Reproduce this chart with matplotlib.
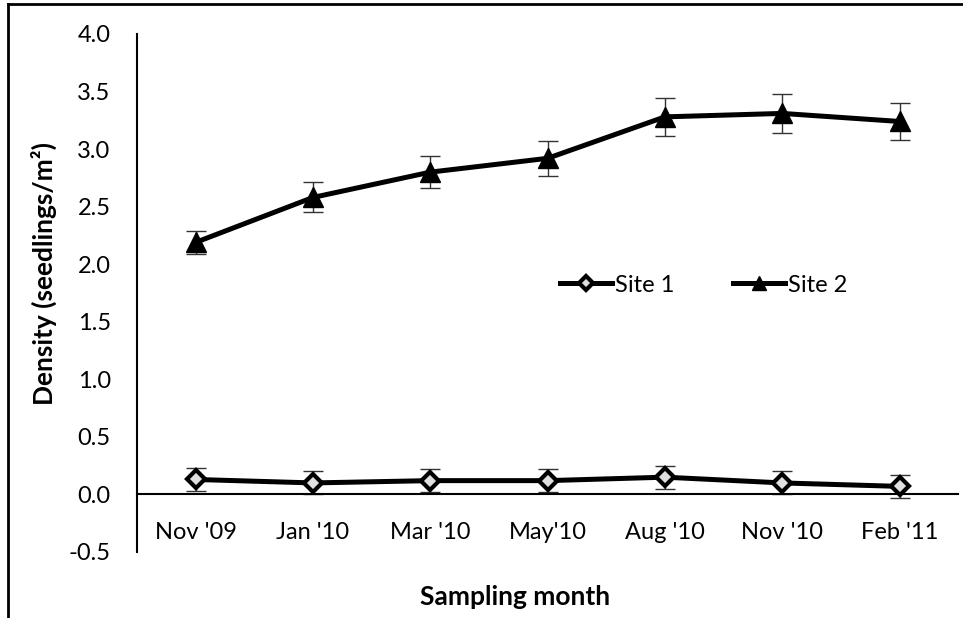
import matplotlib
matplotlib.use('Agg')
import matplotlib.pyplot as plt
from matplotlib.lines import Line2D
import numpy as np

months = ["Nov '09", "Jan '10", "Mar '10", "May'10", "Aug '10", "Nov '10", "Feb '11"]
site1 = [0.13, 0.10, 0.12, 0.12, 0.15, 0.10, 0.07]
site1_err = [0.10, 0.10, 0.10, 0.10, 0.10, 0.10, 0.10]
site2 = [2.19, 2.58, 2.80, 2.92, 3.28, 3.31, 3.24]
site2_err = [0.10, 0.13, 0.14, 0.15, 0.165, 0.17, 0.16]

plt.rcParams['font.family'] = ['Lato', 'DejaVu Sans']
fs = 17
fs_lab = 19

fig = plt.figure(figsize=(9.63, 6.18), dpi=100)
ax = fig.add_axes([0.1423, 0.1068, 0.8527, 0.8382])

for s in ['top', 'right']:
    ax.spines[s].set_visible(False)
ax.spines['bottom'].set_position(('data', 0))
ax.spines['bottom'].set_linewidth(1.5)
ax.spines['left'].set_linewidth(1.5)

x = np.arange(len(months))
ax.errorbar(x, site2, yerr=site2_err, fmt='none', ecolor='#333333', elinewidth=1, capsize=7, capthick=1, zorder=2)
ax.errorbar(x, site1, yerr=site1_err, fmt='none', ecolor='#333333', elinewidth=1, capsize=7, capthick=1, zorder=2)
ax.plot(x, site1, color='black', lw=3.6, marker='D', ms=9.5, mfc='#e0e0e0', mec='black', mew=3, label='Site 1', zorder=3)
ax.plot(x, site2, color='black', lw=3.6, marker='^', ms=15, mfc='black', mec='black', label='Site 2', zorder=3)

ax.set_xlim(-0.5, 6.5)
ax.set_ylim(-0.5, 4.0)
yt = np.arange(-0.5, 4.01, 0.5)
ax.set_yticks(yt)
ax.set_yticklabels([f'{v:.1f}' for v in yt])
ax.set_xticks(x)
ax.set_xticklabels(months)
ax.tick_params(axis='both', labelsize=fs)
ax.tick_params(axis='x', length=0, pad=20)
ax.tick_params(axis='y', length=0, pad=19)

ax.set_ylabel('Density (seedlings/m²)', fontsize=fs_lab, fontweight='bold')
ax.yaxis.set_label_coords(-0.0974, 0.537)
fig.text(515 / 963, 1 - 597 / 618, 'Sampling month', fontsize=fs_lab, fontweight='bold', ha='center', va='center')

ax.legend(loc='center', bbox_to_anchor=(0.69, 0.515), ncol=2, frameon=False, fontsize=fs,
          handlelength=2.2, handletextpad=0.1, columnspacing=2.5, markerscale=0.7)

# outer frame (top and left edges only visible)
fig.add_artist(Line2D([0.008, 0.008], [0, 0.993], transform=fig.transFigure, color='black', lw=2))
fig.add_artist(Line2D([0.008, 1], [0.993, 0.993], transform=fig.transFigure, color='black', lw=2))

fig.savefig('out.png', dpi=100)
